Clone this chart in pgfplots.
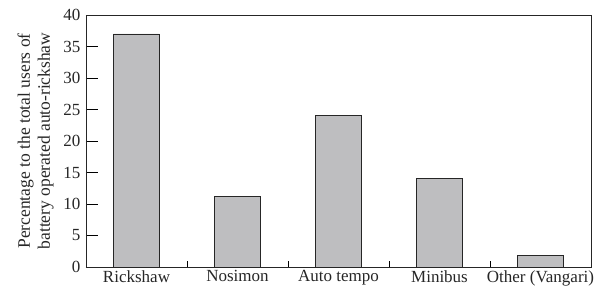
\documentclass[border=0pt]{standalone}
\usepackage{pgfplots}
\pgfplotsset{compat=1.18}
\usepackage{fontspec}
\setmainfont{Liberation Serif}
\definecolor{barfill}{HTML}{BEBEC0}
\begin{document}
\begin{tikzpicture}
\begin{axis}[
  scale only axis,
  width=505bp, height=252bp,
  xmin=-0.5, xmax=4.5,
  ymin=0, ymax=40,
  ytick={0,5,...,40},
  tick align=inside,
  xtick={0.5,1.5,2.5,3.5},
  xticklabels={},
  xtick style={/pgfplots/major tick length=6bp, black},
  ytick style={/pgfplots/major tick length=12bp, black},
  extra x ticks={0,1,2,3,4},
  extra x tick labels={Rickshaw,Nosimon,Auto tempo,Minibus,Other (Vangari)},
  extra x tick style={/pgfplots/major tick length=0pt},
  xtick pos=bottom, ytick pos=left,
  /pgf/number format/assume math mode=true,
  yticklabel={\pgfmathprintnumber{\tick}},
  ticklabel style={font=\fontsize{17bp}{19bp}\selectfont, text=black!85},
  yticklabel style={xshift=-2bp},
  ylabel={Percentage to the total users of\\battery operated auto-rickshaw},
  ylabel style={align=center, font=\fontsize{17.5bp}{20bp}\selectfont, text=black!85},
  axis line style={black!85, line width=0.9pt},
  ylabel shift=3bp,
]
\addplot[ybar, bar width=46bp, fill=barfill, draw=black!85, line width=0.8pt]
  coordinates {(0,37) (1,11.2) (2,24) (3,14.1) (4,1.9)};
\end{axis}
\path (current axis.south west) ++(-86bp,-25bp);
\path (current axis.north east) ++(7bp,15bp);
\end{tikzpicture}
\end{document}
